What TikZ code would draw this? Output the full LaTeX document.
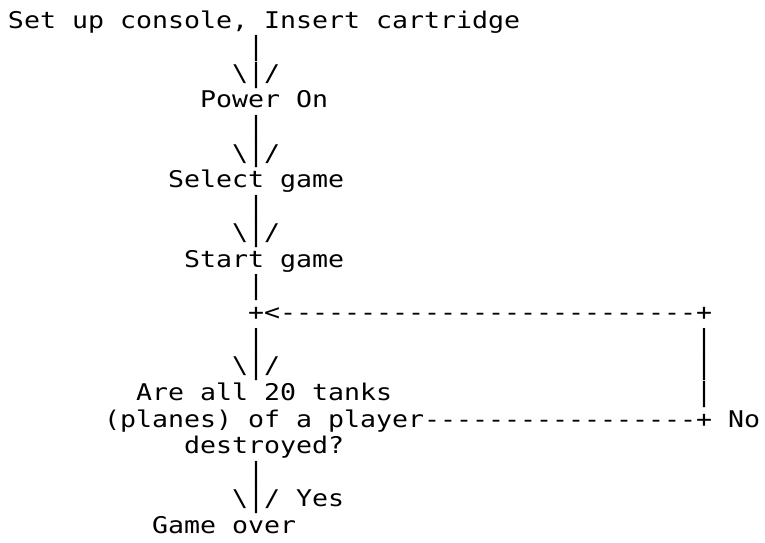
\documentclass[tikz,border=0pt]{standalone}
\usepackage{fontspec}
\usepackage{graphicx}
\setmonofont[FakeStretch=1.1556]{DejaVu Sans Mono}
\tikzset{
  asc/.style={anchor=base west, inner sep=0pt, outer sep=0pt,
    font=\ttfamily\fontsize{23}{23}\selectfont},
  cell/.style 2 args={at={({8+16*#1},{28+26.6*(#2-1)})}}
}
\newcommand\bs{\textbackslash}
\newcommand\vb{\raisebox{-0.8pt}{\scalebox{1}[1.14]{|}}}
\begin{document}
\begin{tikzpicture}[x=1pt,y=-1pt]
\useasboundingbox (0,0) rectangle (765,542);
% labels
\node[asc,cell={0}{1}]  (setup)  {Set up console, Insert cartridge};
\node[asc,cell={12}{4}] (power)  {Power On};
\node[asc,cell={10}{7}] (select) {Select game};
\node[asc,cell={11}{10}] (start) {Start game};
\node[asc,cell={8}{15}] (q1)     {Are all 20 tanks};
\node[asc,cell={6}{16}] (q2)     {(planes) of a player};
\node[asc,cell={11}{17}] (q3)    {destroyed?};
\node[asc,cell={45}{16}] (no)    {No};
\node[asc,cell={18}{19}] (yes)   {Yes};
\node[asc,cell={9}{20}] (over)   {Game over};
% ascii connectors
\node[asc,cell={15}{2}]  (v1) {\vb};
\node[asc,cell={14}{3}]  (a1) {\bs\vb/};
\node[asc,cell={15}{5}]  (v2) {\vb};
\node[asc,cell={14}{6}]  (a2) {\bs\vb/};
\node[asc,cell={15}{8}]  (v3) {\vb};
\node[asc,cell={14}{9}]  (a3) {\bs\vb/};
\node[asc,cell={15}{11}] (v4) {\vb};
\node[asc,cell={15}{12}] (loop) {+<--------------------------+};
\node[asc,cell={15}{13}] (v5) {\vb};
\node[asc,cell={43}{13}] (r1) {\vb};
\node[asc,cell={14}{14}] (a4) {\bs\vb/};
\node[asc,cell={43}{14}] (r2) {\vb};
\node[asc,cell={43}{15}] (r3) {\vb};
\node[asc,cell={26}{16}] (back) {-----------------+};
\node[asc,cell={15}{18}] (v6) {\vb};
\node[asc,cell={14}{19}] (a5) {\bs\vb/};
\end{tikzpicture}
\end{document}
